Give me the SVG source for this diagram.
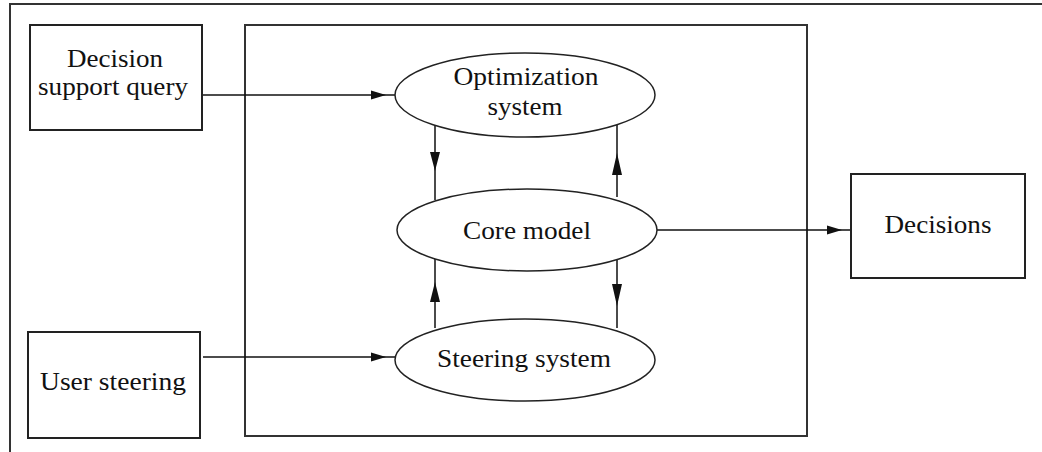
<svg xmlns="http://www.w3.org/2000/svg" width="1042" height="452" viewBox="0 0 1042 452">
<style>
.box{fill:#fff;stroke:#222;stroke-width:2}
.frame{fill:none;stroke:#333;stroke-width:2}
.ell{fill:#fff;stroke:#222;stroke-width:1.5}
.lbl{font-family:"Liberation Serif","Times New Roman",serif;font-size:26px;fill:#111;text-anchor:middle}
.con{stroke:#111;stroke-width:1.5;fill:none;marker-end:url(#ah)}
</style>
<defs>
<marker id="ah" viewBox="0 0 24 10" refX="24" refY="5" markerWidth="24" markerHeight="10" markerUnits="userSpaceOnUse" orient="auto">
<path d="M0,0.5 L15,5 L0,9.5 Z" fill="#111"/>
</marker>
</defs>
<rect width="1042" height="452" fill="#fff"/>
<path class="frame" d="M1042,4 H10 V452"/>
<rect id="container" class="frame" x="245" y="25" width="562" height="411"/>
<g id="connectors">
<line class="con" x1="202" y1="95" x2="395" y2="95"/>
<line class="con" x1="203" y1="357" x2="395" y2="357"/>
<line class="con" x1="657" y1="230" x2="851" y2="230"/>
<path d="M435,125 V200 M617,125 V197 M435,328 V258 M617,328 V258" stroke="#111" stroke-width="1.5" fill="none"/>
<path d="M430,152 L440,152 L435,171 Z M612,175 L622,175 L617,153 Z M430,302 L440,302 L435,282 Z M612,284 L622,284 L617,306 Z" fill="#111"/>
</g>
<g id="n-query">
<rect class="box" x="30" y="25" width="172" height="105"/>
<text class="lbl" x="115" y="67" textLength="96" lengthAdjust="spacingAndGlyphs">Decision</text>
<text class="lbl" x="113" y="95" textLength="150" lengthAdjust="spacingAndGlyphs">support query</text>
</g>
<g id="n-user">
<rect class="box" x="28" y="332" width="172" height="106"/>
<text class="lbl" x="113" y="390" textLength="146" lengthAdjust="spacingAndGlyphs">User steering</text>
</g>
<g id="n-decisions">
<rect class="box" x="851" y="174" width="174" height="104"/>
<text class="lbl" x="938" y="233" textLength="107" lengthAdjust="spacingAndGlyphs">Decisions</text>
</g>
<g id="n-opt">
<ellipse class="ell" cx="525" cy="95" rx="130" ry="42"/>
<text class="lbl" x="526" y="85" textLength="145" lengthAdjust="spacingAndGlyphs">Optimization</text>
<text class="lbl" x="525" y="115" textLength="75" lengthAdjust="spacingAndGlyphs">system</text>
</g>
<g id="n-core">
<ellipse class="ell" cx="527" cy="230" rx="130" ry="41"/>
<text class="lbl" x="527" y="239" textLength="128" lengthAdjust="spacingAndGlyphs">Core model</text>
</g>
<g id="n-steer">
<ellipse class="ell" cx="525" cy="360" rx="130" ry="41"/>
<text class="lbl" x="524" y="367" textLength="174" lengthAdjust="spacingAndGlyphs">Steering system</text>
</g>
</svg>
